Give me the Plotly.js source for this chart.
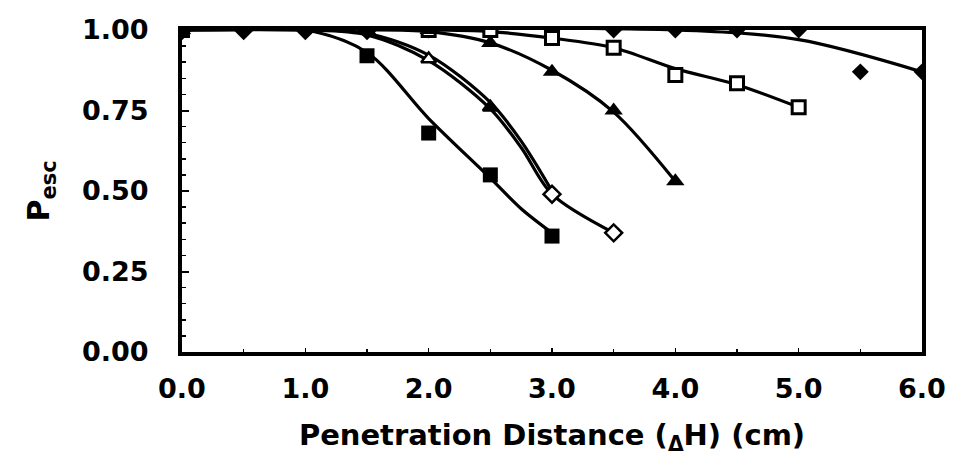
<!DOCTYPE html>
<html>
<head>
<meta charset="utf-8">
<script src="https://cdn.plot.ly/plotly-3.0.1.min.js"></script>
<style>html,body{margin:0;padding:0;background:#fff;}#chart{width:953px;height:468px;}</style>
</head>
<body>
<div id="chart"></div>
<script>
// Measured points
const sqX = [0, 1.5, 2.0, 2.5, 3.0];
const sqY = [1.00, 0.92, 0.68, 0.55, 0.36];

const odX = [0, 0.5, 1.0, 1.5, 2.0, 2.5, 3.0, 3.5];
const odY = [1.00, 1.00, 1.00, 1.00, 0.91, 0.76, 0.49, 0.37];

const trX = [0, 1.5, 2.0, 2.5, 3.0, 3.5, 4.0];
const trY = [1.00, 1.00, 1.00, 0.96, 0.87, 0.75, 0.53];

const osX = [0, 2.0, 2.5, 3.0, 3.5, 4.0, 4.5, 5.0];
const osY = [1.00, 1.00, 1.00, 0.975, 0.945, 0.86, 0.835, 0.76];

const fdX = [0, 0.5, 1.0, 1.5, 2.0, 2.5, 3.0, 3.5, 4.0, 4.5, 5.0, 5.5, 6.0];
const fdY = [1, 1, 1, 1, 1, 1, 1, 1, 1, 1, 1, 0.87, 0.87];

// Fitted curves
const fitSqX = [0, 1.0, 1.5, 2.0, 2.5, 2.75, 3.0];
const fitSqY = [1.0, 1.0, 0.93, 0.725, 0.54, 0.445, 0.37];

const fitOdX = [0, 1.0, 1.5, 2.0, 2.5, 2.75, 3.0, 3.5];
const fitOdY = [1.0, 1.0, 0.985, 0.905, 0.755, 0.635, 0.49, 0.37];

const fitTr2X = [0, 1.0, 1.5, 2.0, 2.5, 2.75, 3.0];
const fitTr2Y = [1.0, 1.0, 0.99, 0.922, 0.775, 0.655, 0.50];

const fitTrX = [1.5, 2.0, 2.5, 3.0, 3.5, 4.0];
const fitTrY = [1.0, 0.995, 0.96, 0.875, 0.745, 0.53];

const fitOsX = [2.0, 2.5, 3.0, 3.5, 4.0, 4.5, 5.0];
const fitOsY = [1.0, 0.995, 0.975, 0.945, 0.88, 0.83, 0.76];

const fitFdX = [0, 4.0, 5.0, 6.0];
const fitFdY = [1.0, 1.0, 0.97, 0.87];

const xTicks = [0, 1, 2, 3, 4, 5, 6];
const xTickText = ['0.0', '1.0', '2.0', '3.0', '4.0', '5.0', '6.0'];
const yTicks = [0, 0.25, 0.5, 0.75, 1.0];
const yTickText = ['0.00', '0.25', '0.50', '0.75', '1.00'];

const odSymbols = ['diamond', 'diamond', 'diamond', 'diamond', 'triangle-up', 'triangle-up', 'diamond', 'diamond'];
const odFill = ['#000', '#000', '#000', '#000', '#fff', '#000', '#fff', '#fff'];

function fit(x, y) {
  return {x: x, y: y, mode: 'lines', type: 'scatter', line: {color: '#000', width: 3.2, shape: 'spline', smoothing: 0.9}, hoverinfo: 'skip'};
}

const traces = [
  fit(fitFdX, fitFdY),
  fit(fitOsX, fitOsY),
  fit(fitTrX, fitTrY),
  fit(fitTr2X, fitTr2Y),
  fit(fitOdX, fitOdY),
  fit(fitSqX, fitSqY),
  {x: fdX, y: fdY, mode: 'markers', type: 'scatter', marker: {symbol: 'diamond', size: 13, color: '#000', line: {width: 0}}},
  {x: osX, y: osY, mode: 'markers', type: 'scatter', marker: {symbol: 'square', size: 13, color: '#fff', line: {width: 3, color: '#000'}}},
  {x: trX, y: trY, mode: 'markers', type: 'scatter', marker: {symbol: 'triangle-up', size: 16, color: '#000', line: {width: 0}}},
  {x: odX, y: odY, mode: 'markers', type: 'scatter', marker: {symbol: odSymbols, size: 13, color: odFill, line: {width: 2.5, color: '#000'}}},
  {x: sqX, y: sqY, mode: 'markers', type: 'scatter', marker: {symbol: 'square', size: 15, color: '#000', line: {width: 0}}}
];

const tickFont = {family: 'DejaVu Sans, sans-serif', size: 27, color: '#000', weight: 'bold'};

const layout = {
  width: 953, height: 468,
  margin: {l: 182, r: 31, t: 30, b: 116},
  paper_bgcolor: '#fff', plot_bgcolor: '#fff',
  showlegend: false,
  xaxis: {
    range: [0, 6], tickvals: xTicks, ticktext: xTickText,
    tickfont: tickFont, ticks: 'inside', ticklen: 4, tickwidth: 1.5, tickcolor: '#000',
    minor: {dtick: 0.5, ticks: 'inside', ticklen: 3, tickcolor: '#000'},
    showline: true, linewidth: 4, linecolor: '#000', mirror: true,
    showgrid: false, zeroline: false, ticklabelstandoff: 10,
    title: {text: '<b>Penetration Distance (<sub>Δ</sub>H) (cm)</b>', font: {family: 'DejaVu Sans, sans-serif', size: 29, color: '#000'}, standoff: 22}
  },
  yaxis: {
    range: [0, 1.0], tickvals: yTicks, ticktext: yTickText,
    tickfont: tickFont, ticks: 'inside', ticklen: 7, tickwidth: 2, tickcolor: '#000',
    minor: {dtick: 0.05, ticks: 'inside', ticklen: 4, tickwidth: 1.5, tickcolor: '#000'},
    showline: true, linewidth: 4, linecolor: '#000', mirror: true,
    showgrid: false, zeroline: false, ticklabelstandoff: 24,
    title: {text: '<b>P<sub>esc</sub></b>', font: {family: 'DejaVu Sans, sans-serif', size: 30, color: '#000'}, standoff: 24}
  }
};

Plotly.newPlot('chart', traces, layout, {staticPlot: true, displayModeBar: false});
</script>
</body>
</html>
